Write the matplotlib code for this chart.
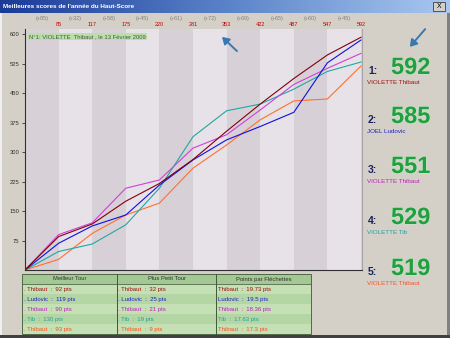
import numpy as np
import matplotlib
matplotlib.use("Agg")
import matplotlib.pyplot as plt
from matplotlib.colors import LinearSegmentedColormap
from matplotlib.patches import Rectangle, FancyArrowPatch
import matplotlib.patheffects as pe

plt.rcParams['font.family'] = ['Liberation Sans', 'DejaVu Sans']

# ---------------- data ----------------
rounds = list(range(0, 11))
thibaut1 = [0, 85, 117, 175, 220, 281, 353, 422, 487, 547, 592]
ludovic = [0, 68, 112, 140, 216, 280, 331, 365, 401, 527, 585]
thibaut3 = [0, 90, 120, 208, 229, 310, 344, 407, 472, 513, 551]
tib = [0, 47, 66, 115, 208, 339, 405, 422, 460, 505, 529]
thibaut5 = [0, 27, 93, 140, 170, 259, 318, 382, 430, 435, 519]

series = [thibaut1, ludovic, thibaut3, tib, thibaut5]
line_colors = ['#800010', '#1010e0', '#d040d8', '#20a8a0', '#ff7030']
name_colors = ['#a01010', '#2020c0', '#c020c0', '#20a0a0', '#ff5020']
names = ['VIOLETTE Thibaut', 'JOEL Ludovic', 'VIOLETTE Thibaut', 'VIOLETTE Tib', 'VIOLETTE Thibaut']
ranks = ['1:', '2:', '3:', '4:', '5:']

yticks = [75, 150, 225, 300, 375, 450, 525, 600]
title = "Meilleures scores de l'année du Haut-Score"
record_note = "N°1: VIOLETTE  Thibaut , le 13 Février 2009"

table_headers = ['Meilleur Tour', 'Plus Petit Tour', 'Points par Fléchettes']
best_turn = ['. Thibaut  :  92 pts', '. Ludovic  :  119 pts', '. Thibaut  :  90 pts',
             '. Tib  :  130 pts', '. Thibaut  :  93 pts']
smallest_turn = ['. Thibaut  :  32 pts', '. Ludovic  :  25 pts', '. Thibaut  :  21 pts',
                 '. Tib  :  19 pts', '. Thibaut  :  9 pts']
per_dart = ['Thibaut  :  19.73 pts', 'Ludovic  :  19.5 pts', 'Thibaut  :  18.36 pts',
            'Tib  :  17.63 pts', 'Thibaut  :  17.3 pts']

# ---------------- figure ----------------
W, H = 450, 338
fig = plt.figure(figsize=(W / 100, H / 100), dpi=100)
fig.patch.set_facecolor('#d4d0c8')

bg = fig.add_axes([0, 0, 1, 1], zorder=0)
bg.set_xlim(0, W)
bg.set_ylim(H, 0)
bg.axis('off')

# title bar
grad = np.linspace(0, 1, 256).reshape(1, -1)
cmap = LinearSegmentedColormap.from_list('tb', ['#1a3a98', '#5a82c8', '#a8c8f0'])
bg.imshow(grad, extent=(0, W, 13, 0), aspect='auto', cmap=cmap, zorder=1)
bg.text(3, 6.5, title, color='white', fontsize=4.6, fontweight='bold', va='center', ha='left', zorder=2)
bg.add_patch(Rectangle((433, 2), 12, 9, fc='#d4d0c8', ec='#404040', lw=0.6, zorder=2))
bg.text(439, 6.6, 'X', fontsize=5, ha='center', va='center', color='black', zorder=3)
# window bottom border
bg.add_patch(Rectangle((0, 335), W, 3, fc='#404040', ec='none', zorder=2))
bg.add_patch(Rectangle((0, 13), 1.5, 322, fc='#f0f0f0', ec='none', zorder=2))
bg.add_patch(Rectangle((447, 13), 3, 322, fc='#808080', ec='none', zorder=2))

# ---------------- main plot ----------------
x0, x1, ytop, ybot = 25, 362, 29, 270
ax = fig.add_axes([x0 / W, (H - ybot) / H, (x1 - x0) / W, (ybot - ytop) / H], zorder=1)
ax.set_xlim(0, 10.03)
ax.set_ylim(0, 613)
dark_band, light_band = '#d7d1d7', '#e7e2e8'
for i in range(11):
    ax.axvspan(i, i + 1, color=dark_band if i % 2 == 0 else light_band, lw=0, zorder=0)

for vals, col in zip(series[::-1], line_colors[::-1]):
    ax.plot(rounds, vals, color=col, lw=0.8, zorder=3, solid_joinstyle='miter')

ax.set_xticks([])
ax.set_yticks(yticks)
ax.set_yticklabels([str(v) for v in yticks], fontsize=4.2, color='#303030')
ax.tick_params(axis='y', length=2.5, width=0.6, color='#303030', pad=1.5)
for s in ['top']:
    ax.spines[s].set_visible(False)
ax.spines['right'].set_color('#a8a4a8')
ax.spines['right'].set_linewidth(0.8)
ax.spines['left'].set_color('#303030')
ax.spines['left'].set_linewidth(0.8)
ax.spines['bottom'].set_color('#303030')
ax.spines['bottom'].set_linewidth(0.8)

# top labels: increments and cumulative of the leader
lead = thibaut1
tr = ax.get_xaxis_transform()
for i in range(1, len(lead)):
    diff = lead[i] - lead[i - 1]
    ax.text(i - 0.5, 1.044, f'(+{diff})', transform=tr, fontsize=4, color='#808080',
            ha='center', va='center', clip_on=False)
    ax.text(i, 1.017, str(lead[i]), transform=tr, fontsize=4, color='#c00000',
            ha='center', va='center', clip_on=False)

ax.text(0.12, 594, record_note, fontsize=4.2, color='#505050', va='center', ha='left', zorder=5,
        bbox=dict(boxstyle='square,pad=0.25', fc='#b8e0a8', ec='none'))

# ---------------- ranking panel ----------------
baselines = [74, 123, 173, 224, 275]
for k in range(5):
    yb = baselines[k]
    bg.text(368, yb, ranks[k], fontsize=7.5, fontweight='bold', color='#1a2060', ha='left', va='baseline', zorder=3)
    bg.text(391, yb, str(series[k][-1]), fontsize=17, fontweight='bold', color='#22a040',
            ha='left', va='baseline', zorder=3,
            path_effects=[pe.withStroke(linewidth=0.8, foreground='#c8e8c8')])
    bg.text(367, yb + 8.5, names[k], fontsize=4.5, color=name_colors[k], ha='left', va='center', zorder=3)

# ---------------- table ----------------
tx0, tx1 = 22, 311
col_edges = [22, 117, 216, 311]
hy0, hy1 = 274, 284
row_h = 10
header_bg = '#a4c894'
row_bgs = ['#c4e0b4', '#b4d6a4']
bg.add_patch(Rectangle((tx0, hy0), tx1 - tx0, hy1 - hy0, fc=header_bg, ec='none', zorder=2))
for r in range(5):
    bg.add_patch(Rectangle((tx0, hy1 + r * row_h), tx1 - tx0, row_h, fc=row_bgs[r % 2], ec='none', zorder=2))
tb_bottom = hy1 + 5 * row_h
bg.add_patch(Rectangle((tx0, hy0), tx1 - tx0, tb_bottom - hy0, fc='none', ec='#506848', lw=0.7, zorder=3))
bg.plot([tx0, tx1], [hy1, hy1], color='#506848', lw=0.6, zorder=3)
for cx in col_edges[1:-1]:
    bg.plot([cx, cx], [hy0, tb_bottom], color='#405838', lw=0.7, zorder=3)
for c in range(3):
    bg.text((col_edges[c] + col_edges[c + 1]) / 2, (hy0 + hy1) / 2, table_headers[c], fontsize=4.2,
            color='#303030', ha='center', va='center', zorder=4)
cols = [best_turn, smallest_turn, per_dart]
for c, col in enumerate(cols):
    for r, txt in enumerate(col):
        bg.text(col_edges[c] + 1.5, hy1 + r * row_h + row_h / 2, txt, fontsize=4.3,
                color=name_colors[r], ha='left', va='center', zorder=4)

# ---------------- arrows ----------------
fg = fig.add_axes([0, 0, 1, 1], zorder=5)
fg.set_xlim(0, W)
fg.set_ylim(H, 0)
fg.axis('off')
fg.patch.set_alpha(0)
arrow_col = '#3a78b0'
fg.add_patch(FancyArrowPatch((239, 53), (220, 35), arrowstyle='-|>,head_length=4,head_width=2.5',
                             color=arrow_col, lw=1.4, mutation_scale=1))
fg.add_patch(FancyArrowPatch((427, 27), (408, 49), arrowstyle='-|>,head_length=4,head_width=2.5',
                             color=arrow_col, lw=1.4, mutation_scale=1))

fig.savefig('out.png', dpi=100, facecolor=fig.get_facecolor())
